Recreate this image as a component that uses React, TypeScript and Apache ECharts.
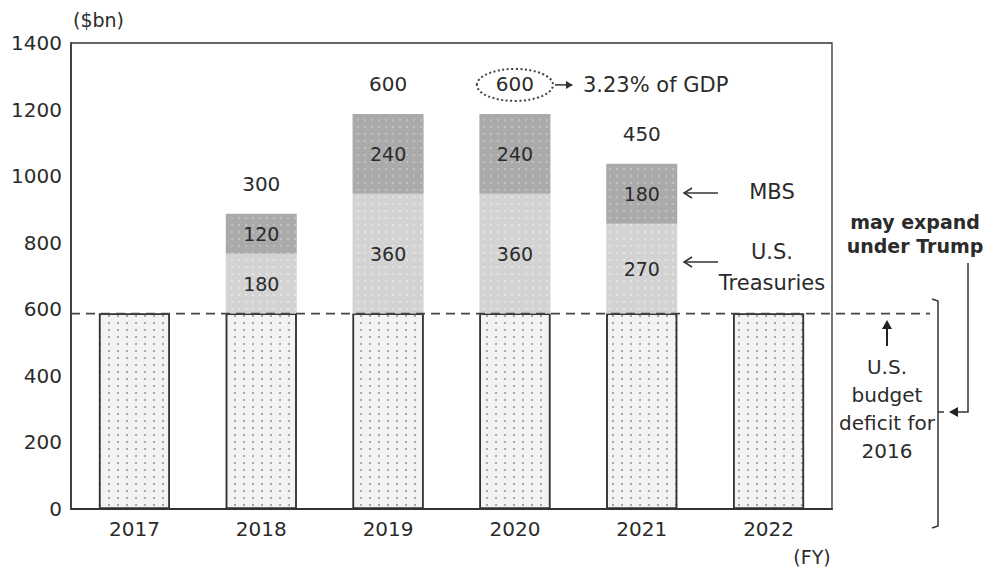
import { useEffect, useRef } from "react";
import * as echarts from "echarts";

const categories = ["2017", "2018", "2019", "2020", "2021", "2022"];
const baseDeficit = [587, 587, 587, 587, 587, 587];
const treasuries = [0, 180, 360, 360, 270, 0];
const mbs = [0, 120, 240, 240, 180, 0];
const yMin = 0;
const yMax = 1400;
const yStep = 200;
const gdpNote = "3.23% of GDP";
const gdpNoteCategory = "2020";

const FONT = "DejaVu Sans";
const INK = "#2b2b2b";

export default function App() {
  const ref = useRef<HTMLDivElement>(null);
  useEffect(() => {
    document.body.style.margin = "0";
    const chart = echarts.init(ref.current!, null, { renderer: "svg" });
    const totals = categories.map((_, i) => treasuries[i] + mbs[i]);
    const tops = categories.map((_, i) =>
      totals[i] > 0 ? baseDeficit[i] + totals[i] : null
    );
    const inner = {
      show: true,
      position: "inside",
      fontFamily: FONT,
      fontSize: 19,
      color: INK,
      formatter: (p: any) => (p.value ? String(p.value) : ""),
    };
    chart.setOption({
      animation: false,
      grid: {
        left: 71,
        right: 167,
        top: 43,
        bottom: 62,
        show: true,
        borderColor: "#333",
        borderWidth: 1.3,
      },
      xAxis: {
        type: "category",
        data: categories,
        axisTick: { show: false },
        axisLine: { lineStyle: { color: "#333", width: 2 } },
        axisLabel: { fontFamily: FONT, fontSize: 20, color: INK, margin: 10 },
      },
      yAxis: {
        type: "value",
        min: yMin,
        max: yMax,
        interval: yStep,
        splitLine: { show: false },
        axisTick: { show: false },
        axisLine: { show: true, lineStyle: { color: "#333", width: 1.5 } },
        axisLabel: {
          fontFamily: FONT,
          fontSize: 20,
          color: INK,
          margin: 9,
          formatter: (v: number) => String(v),
        },
      },
      series: [
        {
          type: "bar",
          stack: "a",
          barWidth: 71,
          data: baseDeficit,
          itemStyle: {
            color: "#f3f3f3",
            borderColor: "#333",
            borderWidth: 1.5,
            decal: {
              symbol: "circle",
              symbolSize: 1,
              color: "rgba(80,80,80,0.55)",
              dashArrayX: [1.6, 6.4],
              dashArrayY: [1.6, 4.4],
            },
          },
        },
        {
          type: "bar",
          stack: "a",
          barWidth: 71,
          data: treasuries,
          label: inner,
          itemStyle: {
            color: "#d3d3d3",
            decal: {
              symbol: "circle",
              symbolSize: 1,
              color: "rgba(255,255,255,0.45)",
              dashArrayX: [1.6, 4.4],
              dashArrayY: [1.6, 4.4],
            },
          },
        },
        {
          type: "bar",
          stack: "a",
          barWidth: 71,
          data: mbs,
          label: inner,
          itemStyle: {
            color: "#aaaaaa",
            decal: {
              symbol: "circle",
              symbolSize: 1,
              color: "rgba(255,255,255,0.3)",
              dashArrayX: [1.6, 4.4],
              dashArrayY: [1.6, 4.4],
            },
          },
        },
        {
          type: "scatter",
          symbolSize: 0,
          data: tops,
          itemStyle: { opacity: 1 },
          label: {
            show: true,
            position: "top",
            distance: 20,
            fontFamily: FONT,
            fontSize: 20,
            color: INK,
            formatter: (p: any) => String(totals[p.dataIndex]),
          },
        },
      ],
    });

    const gi = categories.indexOf(gdpNoteCategory);
    const ex = chart.convertToPixel({ xAxisIndex: 0 }, gdpNoteCategory) as number;
    const ey =
      (chart.convertToPixel({ yAxisIndex: 0 }, tops[gi] as number) as number) - 29;
    const dashY = chart.convertToPixel({ yAxisIndex: 0 }, baseDeficit[0]) as number;
    const txt = (x: number, y: number, text: string, extra: any = {}) => ({
      type: "text",
      x,
      y,
      style: {
        text,
        fontFamily: FONT,
        fontSize: 20,
        fill: INK,
        align: "center",
        verticalAlign: "middle",
        ...extra,
      },
      z: 10,
    });
    const stroke = { stroke: "#333", lineWidth: 1.5, fill: "none" };
    chart.setOption({
      graphic: [
        {
          type: "line",
          shape: { x1: 71, y1: dashY, x2: 930, y2: dashY },
          style: { stroke: "#444", lineWidth: 1.6, lineDash: [9, 6] },
          z: 5,
        },
        txt(73, 20, "($bn)", { align: "left", fontSize: 19 }),
        txt(812, 557, "(FY)", { fontSize: 19 }),
        {
          type: "ellipse",
          shape: { cx: ex, cy: ey, rx: 38, ry: 16 },
          style: { stroke: "#444", lineWidth: 2, lineDash: [2, 2.5], fill: "none" },
          z: 10,
        },
        { type: "line", shape: { x1: ex + 40, y1: ey, x2: ex + 57, y2: ey }, style: stroke, z: 10 },
        {
          type: "polygon",
          shape: { points: [[ex + 58, ey], [ex + 51, ey - 4], [ex + 51, ey + 4]] },
          style: { fill: "#333" },
          z: 10,
        },
        txt(ex + 68, ey, gdpNote, { align: "left", fontSize: 21 }),
        // MBS
        { type: "line", shape: { x1: 718, y1: 193, x2: 684, y2: 193 }, style: stroke, z: 10 },
        { type: "polyline", shape: { points: [[692, 188], [684, 193], [692, 198]] }, style: stroke, z: 10 },
        txt(772, 192, "MBS", { fontSize: 21 }),
        // Treasuries
        { type: "line", shape: { x1: 718, y1: 262, x2: 684, y2: 262 }, style: stroke, z: 10 },
        { type: "polyline", shape: { points: [[692, 257], [684, 262], [692, 267]] }, style: stroke, z: 10 },
        txt(772, 267, "U.S.\nTreasuries", { fontSize: 21, lineHeight: 31 }),
        // may expand
        txt(915, 234, "may expand\nunder Trump", { fontSize: 19, fontWeight: "bold", lineHeight: 24 }),
        {
          type: "polyline",
          shape: { points: [[968, 263], [968, 412], [957, 412]] },
          style: stroke,
          z: 10,
        },
        {
          type: "polygon",
          shape: { points: [[949, 412], [958, 407], [958, 417]] },
          style: { fill: "#222" },
          z: 10,
        },
        // bracket
        {
          type: "polyline",
          shape: { points: [[932, 299], [938, 301], [938, 526], [932, 528]] },
          style: stroke,
          z: 10,
        },
        { type: "line", shape: { x1: 938, y1: 412, x2: 944, y2: 412 }, style: stroke, z: 10 },
        // up arrow
        { type: "line", shape: { x1: 887, y1: 346, x2: 887, y2: 326 }, style: { stroke: "#222", lineWidth: 2 }, z: 10 },
        {
          type: "polygon",
          shape: { points: [[887, 320], [882, 329], [892, 329]] },
          style: { fill: "#222" },
          z: 10,
        },
        txt(887, 409, "U.S.\nbudget\ndeficit for\n2016", { lineHeight: 28 }),
      ],
    });
    return () => chart.dispose();
  }, []);
  return (
    <div
      ref={ref}
      style={{ position: "absolute", left: 0, top: 0, width: 999, height: 571, background: "#fff" }}
    />
  );
}
